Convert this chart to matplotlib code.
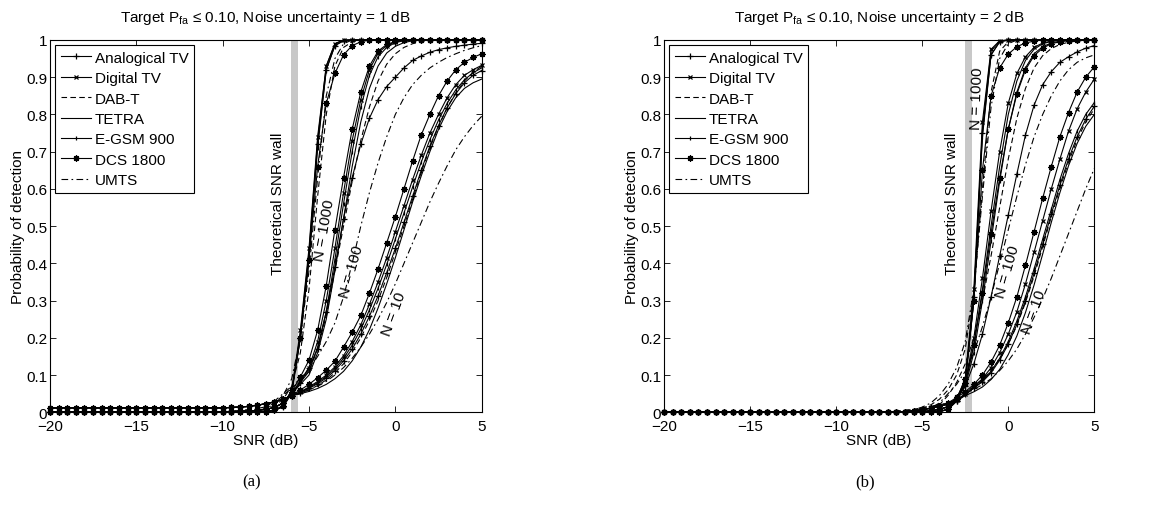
import matplotlib.pyplot as plt
import numpy as np

plt.rcParams['font.family'] = ['Liberation Sans', 'DejaVu Sans']

# SNR grid (dB), one point every 0.5 dB
snr = np.arange(-20, 5.01, 0.5)

series = ['Analogical TV', 'Digital TV', 'DAB-T', 'TETRA', 'E-GSM 900', 'DCS 1800', 'UMTS']

# ---------------- panel (a): noise uncertainty 1 dB ----------------
a10_analog = [0.012, 0.012, 0.012, 0.012, 0.012, 0.012, 0.012, 0.012, 0.012, 0.012,
              0.012, 0.012, 0.012, 0.012, 0.012, 0.012, 0.012, 0.012, 0.012, 0.012,
              0.012, 0.013, 0.014, 0.016, 0.019, 0.023, 0.028, 0.035, 0.044, 0.053,
              0.064, 0.077, 0.092, 0.112, 0.138, 0.17, 0.21, 0.258, 0.313, 0.375,
              0.44, 0.51, 0.58, 0.65, 0.715, 0.77, 0.818, 0.856, 0.885, 0.905,
              0.918]
a10_digital = [0.012, 0.012, 0.012, 0.012, 0.012, 0.012, 0.012, 0.012, 0.012, 0.012,
               0.012, 0.012, 0.012, 0.012, 0.012, 0.012, 0.012, 0.012, 0.012, 0.012,
               0.012, 0.013, 0.014, 0.016, 0.019, 0.023, 0.028, 0.035, 0.045, 0.055,
               0.068, 0.083, 0.1, 0.122, 0.152, 0.19, 0.235, 0.29, 0.35, 0.415,
               0.485, 0.555, 0.625, 0.69, 0.75, 0.8, 0.845, 0.88, 0.905, 0.92,
               0.932]
a10_dabt = [0.012, 0.012, 0.012, 0.012, 0.012, 0.012, 0.012, 0.012, 0.012, 0.012,
            0.012, 0.012, 0.012, 0.012, 0.012, 0.012, 0.012, 0.012, 0.012, 0.012,
            0.012, 0.013, 0.014, 0.016, 0.019, 0.023, 0.028, 0.035, 0.043, 0.051,
            0.06, 0.072, 0.087, 0.106, 0.13, 0.162, 0.2, 0.247, 0.3, 0.362,
            0.43, 0.5, 0.572, 0.645, 0.71, 0.768, 0.818, 0.858, 0.89, 0.913,
            0.93]
a10_tetra = [0.012, 0.012, 0.012, 0.012, 0.012, 0.012, 0.012, 0.012, 0.012, 0.012,
             0.012, 0.012, 0.012, 0.012, 0.012, 0.012, 0.012, 0.012, 0.012, 0.012,
             0.012, 0.013, 0.014, 0.016, 0.019, 0.023, 0.028, 0.035, 0.045, 0.05,
             0.056, 0.064, 0.075, 0.09, 0.11, 0.138, 0.175, 0.222, 0.28, 0.345,
             0.415, 0.49, 0.565, 0.635, 0.7, 0.76, 0.808, 0.845, 0.87, 0.885,
             0.895]
a10_egsm = [0.012, 0.012, 0.012, 0.012, 0.012, 0.012, 0.012, 0.012, 0.012, 0.012,
            0.012, 0.012, 0.012, 0.012, 0.012, 0.012, 0.012, 0.012, 0.012, 0.012,
            0.012, 0.013, 0.014, 0.016, 0.019, 0.023, 0.028, 0.035, 0.044, 0.054,
            0.066, 0.08, 0.096, 0.117, 0.145, 0.18, 0.223, 0.275, 0.333, 0.397,
            0.465, 0.535, 0.605, 0.672, 0.732, 0.785, 0.83, 0.866, 0.893, 0.912,
            0.925]
a10_dcs = [0.012, 0.012, 0.012, 0.012, 0.012, 0.012, 0.012, 0.012, 0.012, 0.012,
           0.012, 0.012, 0.012, 0.012, 0.012, 0.012, 0.012, 0.012, 0.012, 0.012,
           0.012, 0.013, 0.014, 0.016, 0.019, 0.023, 0.028, 0.035, 0.045, 0.06,
           0.075, 0.093, 0.113, 0.137, 0.175, 0.215, 0.26, 0.32, 0.385, 0.455,
           0.525, 0.6, 0.675, 0.745, 0.8, 0.85, 0.89, 0.92, 0.94, 0.953,
           0.963]
a10_umts = [0.012, 0.012, 0.012, 0.012, 0.012, 0.012, 0.012, 0.012, 0.012, 0.012,
            0.012, 0.012, 0.012, 0.012, 0.012, 0.012, 0.012, 0.012, 0.012, 0.012,
            0.012, 0.013, 0.014, 0.016, 0.019, 0.023, 0.028, 0.035, 0.045, 0.052,
            0.06, 0.07, 0.083, 0.1, 0.12, 0.145, 0.175, 0.21, 0.25, 0.295,
            0.345, 0.4, 0.455, 0.51, 0.565, 0.615, 0.662, 0.705, 0.74, 0.77,
            0.795]

a100_analog = [0.002, 0.002, 0.002, 0.002, 0.002, 0.002, 0.002, 0.002, 0.002, 0.002,
               0.002, 0.002, 0.002, 0.002, 0.002, 0.002, 0.002, 0.002, 0.002, 0.002,
               0.002, 0.002, 0.003, 0.004, 0.005, 0.008, 0.013, 0.025, 0.05, 0.08,
               0.12, 0.17, 0.27, 0.39, 0.52, 0.63, 0.72, 0.79, 0.84, 0.875,
               0.9, 0.925, 0.945, 0.957, 0.967, 0.974, 0.979, 0.983, 0.986, 0.989,
               0.991]
a100_digital = [0.002, 0.002, 0.002, 0.002, 0.002, 0.002, 0.002, 0.002, 0.002, 0.002,
                0.002, 0.002, 0.002, 0.002, 0.002, 0.002, 0.002, 0.002, 0.002, 0.002,
                0.002, 0.002, 0.003, 0.004, 0.005, 0.008, 0.013, 0.025, 0.05, 0.085,
                0.12, 0.19, 0.3, 0.44, 0.59, 0.73, 0.84, 0.92, 0.965, 0.985,
                0.995, 1, 1, 1, 1, 1, 1, 1, 1, 1,
                1]
a100_dabt = [0.002, 0.002, 0.002, 0.002, 0.002, 0.002, 0.002, 0.002, 0.002, 0.002,
             0.002, 0.002, 0.002, 0.002, 0.002, 0.002, 0.002, 0.002, 0.002, 0.002,
             0.002, 0.003, 0.004, 0.006, 0.008, 0.012, 0.025, 0.045, 0.065, 0.085,
             0.11, 0.17, 0.26, 0.38, 0.5, 0.62, 0.73, 0.82, 0.89, 0.935,
             0.963, 0.98, 0.99, 0.996, 1, 1, 1, 1, 1, 1,
             1]
a100_tetra = [0.002, 0.002, 0.002, 0.002, 0.002, 0.002, 0.002, 0.002, 0.002, 0.002,
              0.002, 0.002, 0.002, 0.002, 0.002, 0.002, 0.002, 0.002, 0.002, 0.002,
              0.002, 0.002, 0.003, 0.004, 0.005, 0.008, 0.013, 0.025, 0.05, 0.075,
              0.1, 0.16, 0.25, 0.38, 0.52, 0.66, 0.78, 0.87, 0.93, 0.965,
              0.983, 0.993, 0.998, 1, 1, 1, 1, 1, 1, 1,
              1]
a100_egsm = [0.002, 0.002, 0.002, 0.002, 0.002, 0.002, 0.002, 0.002, 0.002, 0.002,
             0.002, 0.002, 0.002, 0.002, 0.002, 0.002, 0.002, 0.002, 0.002, 0.002,
             0.002, 0.002, 0.003, 0.004, 0.005, 0.008, 0.013, 0.025, 0.05, 0.08,
             0.11, 0.175, 0.27, 0.41, 0.56, 0.7, 0.82, 0.905, 0.955, 0.98,
             0.993, 0.998, 1, 1, 1, 1, 1, 1, 1, 1,
             1]
a100_dcs = [0.002, 0.002, 0.002, 0.002, 0.002, 0.002, 0.002, 0.002, 0.002, 0.002,
            0.002, 0.002, 0.002, 0.002, 0.002, 0.002, 0.002, 0.002, 0.002, 0.002,
            0.002, 0.002, 0.003, 0.004, 0.005, 0.008, 0.013, 0.025, 0.055, 0.095,
            0.14, 0.22, 0.34, 0.49, 0.63, 0.76, 0.86, 0.93, 0.97, 0.988,
            0.996, 1, 1, 1, 1, 1, 1, 1, 1, 1,
            1]
a100_umts = [0.002, 0.002, 0.002, 0.002, 0.002, 0.002, 0.002, 0.002, 0.002, 0.002,
             0.002, 0.002, 0.002, 0.002, 0.002, 0.002, 0.002, 0.002, 0.002, 0.002,
             0.002, 0.003, 0.005, 0.007, 0.01, 0.015, 0.03, 0.05, 0.07, 0.09,
             0.115, 0.15, 0.19, 0.24, 0.31, 0.4, 0.5, 0.59, 0.67, 0.74,
             0.8, 0.845, 0.88, 0.905, 0.925, 0.94, 0.953, 0.963, 0.972, 0.979,
             0.985]

a1000_analog = [0, 0, 0, 0, 0, 0, 0, 0, 0, 0,
                0, 0, 0, 0, 0, 0, 0, 0, 0, 0,
                0, 0, 0, 0, 0.001, 0.002, 0.005, 0.015, 0.05, 0.2,
                0.41, 0.72, 0.92, 0.985, 0.998, 1, 1, 1, 1, 1,
                1, 1, 1, 1, 1, 1, 1, 1, 1, 1,
                1]
a1000_digital = [0, 0, 0, 0, 0, 0, 0, 0, 0, 0,
                 0, 0, 0, 0, 0, 0, 0, 0, 0, 0,
                 0, 0, 0, 0, 0.001, 0.002, 0.005, 0.018, 0.06, 0.22,
                 0.44, 0.74, 0.93, 0.99, 1, 1, 1, 1, 1, 1,
                 1, 1, 1, 1, 1, 1, 1, 1, 1, 1,
                 1]
a1000_dabt = [0, 0, 0, 0, 0, 0, 0, 0, 0, 0,
              0, 0, 0, 0, 0, 0, 0, 0, 0, 0,
              0, 0, 0, 0.001, 0.004, 0.008, 0.018, 0.035, 0.07, 0.16,
              0.33, 0.58, 0.8, 0.93, 0.98, 0.995, 1, 1, 1, 1,
              1, 1, 1, 1, 1, 1, 1, 1, 1, 1,
              1]
a1000_tetra = [0, 0, 0, 0, 0, 0, 0, 0, 0, 0,
               0, 0, 0, 0, 0, 0, 0, 0, 0, 0,
               0, 0, 0, 0, 0.001, 0.002, 0.005, 0.016, 0.055, 0.21,
               0.43, 0.73, 0.93, 0.99, 1, 1, 1, 1, 1, 1,
               1, 1, 1, 1, 1, 1, 1, 1, 1, 1,
               1]
a1000_egsm = [0, 0, 0, 0, 0, 0, 0, 0, 0, 0,
              0, 0, 0, 0, 0, 0, 0, 0, 0, 0,
              0, 0, 0, 0, 0.001, 0.002, 0.005, 0.015, 0.055, 0.2,
              0.42, 0.71, 0.92, 0.985, 0.998, 1, 1, 1, 1, 1,
              1, 1, 1, 1, 1, 1, 1, 1, 1, 1,
              1]
a1000_dcs = [0, 0, 0, 0, 0, 0, 0, 0, 0, 0,
             0, 0, 0, 0, 0, 0, 0, 0, 0, 0,
             0, 0, 0, 0, 0.001, 0.002, 0.005, 0.018, 0.06, 0.2,
             0.41, 0.66, 0.83, 0.91, 0.96, 0.985, 0.995, 1, 1, 1,
             1, 1, 1, 1, 1, 1, 1, 1, 1, 1,
             1]
a1000_umts = [0, 0, 0, 0, 0, 0, 0, 0, 0, 0,
              0, 0, 0, 0, 0, 0, 0, 0, 0, 0,
              0, 0, 0, 0.002, 0.005, 0.01, 0.022, 0.045, 0.09, 0.2,
              0.38, 0.63, 0.85, 0.95, 0.99, 1, 1, 1, 1, 1,
              1, 1, 1, 1, 1, 1, 1, 1, 1, 1,
              1]

# ---------------- panel (b): noise uncertainty 2 dB ----------------
b10_analog = [0, 0, 0, 0, 0, 0, 0, 0, 0, 0,
              0, 0, 0, 0, 0, 0, 0, 0, 0, 0,
              0, 0, 0, 0, 0, 0, 0, 0.001, 0.002, 0.004,
              0.007, 0.011, 0.016, 0.022, 0.031, 0.048, 0.065, 0.082, 0.106, 0.14,
              0.183, 0.236, 0.3, 0.373, 0.452, 0.532, 0.61, 0.68, 0.74, 0.787,
              0.822]
b10_digital = [0, 0, 0, 0, 0, 0, 0, 0, 0, 0,
               0, 0, 0, 0, 0, 0, 0, 0, 0, 0,
               0, 0, 0, 0, 0, 0, 0, 0.001, 0.002, 0.004,
               0.007, 0.011, 0.016, 0.022, 0.032, 0.05, 0.07, 0.09, 0.12, 0.16,
               0.21, 0.27, 0.345, 0.43, 0.515, 0.6, 0.68, 0.755, 0.815, 0.86,
               0.895]
b10_dabt = [0, 0, 0, 0, 0, 0, 0, 0, 0, 0,
            0, 0, 0, 0, 0, 0, 0, 0, 0, 0,
            0, 0, 0, 0, 0, 0, 0.001, 0.003, 0.005, 0.008,
            0.012, 0.016, 0.02, 0.025, 0.035, 0.05, 0.07, 0.088, 0.112, 0.143,
            0.183, 0.233, 0.295, 0.366, 0.445, 0.525, 0.602, 0.672, 0.732, 0.78,
            0.815]
b10_tetra = [0, 0, 0, 0, 0, 0, 0, 0, 0, 0,
             0, 0, 0, 0, 0, 0, 0, 0, 0, 0,
             0, 0, 0, 0, 0, 0, 0, 0.001, 0.002, 0.004,
             0.007, 0.011, 0.016, 0.022, 0.03, 0.045, 0.055, 0.068, 0.088, 0.115,
             0.155, 0.205, 0.268, 0.342, 0.425, 0.51, 0.59, 0.662, 0.722, 0.768,
             0.8]
b10_egsm = [0, 0, 0, 0, 0, 0, 0, 0, 0, 0,
            0, 0, 0, 0, 0, 0, 0, 0, 0, 0,
            0, 0, 0, 0, 0, 0, 0, 0.001, 0.002, 0.004,
            0.007, 0.011, 0.016, 0.022, 0.031, 0.048, 0.065, 0.085, 0.11, 0.145,
            0.19, 0.245, 0.31, 0.385, 0.465, 0.545, 0.625, 0.695, 0.755, 0.8,
            0.832]
b10_dcs = [0, 0, 0, 0, 0, 0, 0, 0, 0, 0,
           0, 0, 0, 0, 0, 0, 0, 0, 0, 0,
           0, 0, 0, 0, 0, 0, 0, 0.001, 0.002, 0.004,
           0.007, 0.011, 0.017, 0.025, 0.04, 0.055, 0.075, 0.1, 0.135, 0.18,
           0.24, 0.31, 0.395, 0.485, 0.575, 0.66, 0.74, 0.805, 0.86, 0.9,
           0.928]
b10_umts = [0, 0, 0, 0, 0, 0, 0, 0, 0, 0,
            0, 0, 0, 0, 0, 0, 0, 0, 0, 0,
            0, 0, 0, 0, 0, 0, 0.001, 0.003, 0.005, 0.008,
            0.012, 0.016, 0.02, 0.025, 0.035, 0.048, 0.062, 0.074, 0.09, 0.112,
            0.138, 0.17, 0.21, 0.255, 0.305, 0.36, 0.42, 0.48, 0.54, 0.6,
            0.655]

b100_analog = [0, 0, 0, 0, 0, 0, 0, 0, 0, 0,
               0, 0, 0, 0, 0, 0, 0, 0, 0, 0,
               0, 0, 0, 0, 0, 0, 0, 0, 0, 0,
               0.002, 0.004, 0.008, 0.015, 0.035, 0.07, 0.13, 0.21, 0.31, 0.42,
               0.53, 0.64, 0.745, 0.825, 0.88, 0.915, 0.94, 0.955, 0.968, 0.978,
               0.985]
b100_digital = [0, 0, 0, 0, 0, 0, 0, 0, 0, 0,
                0, 0, 0, 0, 0, 0, 0, 0, 0, 0,
                0, 0, 0, 0, 0, 0, 0, 0, 0, 0,
                0.002, 0.004, 0.008, 0.015, 0.035, 0.08, 0.2, 0.36, 0.54, 0.7,
                0.83, 0.91, 0.955, 0.98, 0.992, 0.997, 1, 1, 1, 1,
                1]
b100_dabt = [0, 0, 0, 0, 0, 0, 0, 0, 0, 0,
             0, 0, 0, 0, 0, 0, 0, 0, 0, 0,
             0, 0, 0, 0, 0, 0, 0, 0.001, 0.002, 0.004,
             0.006, 0.01, 0.02, 0.045, 0.08, 0.13, 0.2, 0.3, 0.42, 0.55,
             0.68, 0.79, 0.87, 0.925, 0.958, 0.977, 0.988, 0.994, 0.997, 1,
             1]
b100_tetra = [0, 0, 0, 0, 0, 0, 0, 0, 0, 0,
              0, 0, 0, 0, 0, 0, 0, 0, 0, 0,
              0, 0, 0, 0, 0, 0, 0, 0, 0, 0,
              0.002, 0.004, 0.008, 0.015, 0.035, 0.075, 0.18, 0.33, 0.5, 0.66,
              0.8, 0.89, 0.945, 0.975, 0.99, 0.996, 1, 1, 1, 1,
              1]
b100_egsm = [0, 0, 0, 0, 0, 0, 0, 0, 0, 0,
             0, 0, 0, 0, 0, 0, 0, 0, 0, 0,
             0, 0, 0, 0, 0, 0, 0, 0, 0, 0,
             0.002, 0.004, 0.008, 0.015, 0.035, 0.07, 0.16, 0.3, 0.46, 0.62,
             0.76, 0.86, 0.925, 0.963, 0.982, 0.992, 0.997, 1, 1, 1,
             1]
b100_dcs = [0, 0, 0, 0, 0, 0, 0, 0, 0, 0,
            0, 0, 0, 0, 0, 0, 0, 0, 0, 0,
            0, 0, 0, 0, 0, 0, 0, 0, 0, 0,
            0.002, 0.004, 0.008, 0.015, 0.04, 0.08, 0.18, 0.32, 0.48, 0.63,
            0.76, 0.855, 0.92, 0.958, 0.978, 0.99, 0.995, 0.998, 1, 1,
            1]
b100_umts = [0, 0, 0, 0, 0, 0, 0, 0, 0, 0,
             0, 0, 0, 0, 0, 0, 0, 0, 0, 0,
             0, 0, 0, 0, 0, 0, 0, 0.001, 0.002, 0.004,
             0.007, 0.012, 0.025, 0.05, 0.075, 0.11, 0.16, 0.23, 0.31, 0.4,
             0.49, 0.58, 0.665, 0.74, 0.8, 0.85, 0.89, 0.92, 0.94, 0.952,
             0.96]

b1000_analog = [0, 0, 0, 0, 0, 0, 0, 0, 0, 0,
                0, 0, 0, 0, 0, 0, 0, 0, 0, 0,
                0, 0, 0, 0, 0, 0, 0, 0, 0, 0,
                0, 0, 0.002, 0.008, 0.03, 0.08, 0.31, 0.75, 0.96, 0.995,
                1, 1, 1, 1, 1, 1, 1, 1, 1, 1,
                1]
b1000_digital = [0, 0, 0, 0, 0, 0, 0, 0, 0, 0,
                 0, 0, 0, 0, 0, 0, 0, 0, 0, 0,
                 0, 0, 0, 0, 0, 0, 0, 0, 0, 0,
                 0, 0, 0.002, 0.008, 0.035, 0.09, 0.33, 0.78, 0.975, 0.998,
                 1, 1, 1, 1, 1, 1, 1, 1, 1, 1,
                 1]
b1000_dabt = [0, 0, 0, 0, 0, 0, 0, 0, 0, 0,
              0, 0, 0, 0, 0, 0, 0, 0, 0, 0,
              0, 0, 0, 0, 0, 0, 0, 0, 0, 0.004,
              0.01, 0.02, 0.035, 0.06, 0.1, 0.17, 0.32, 0.6, 0.86, 0.97,
              0.995, 1, 1, 1, 1, 1, 1, 1, 1, 1,
              1]
b1000_tetra = [0, 0, 0, 0, 0, 0, 0, 0, 0, 0,
               0, 0, 0, 0, 0, 0, 0, 0, 0, 0,
               0, 0, 0, 0, 0, 0, 0, 0, 0, 0,
               0, 0, 0.002, 0.008, 0.03, 0.08, 0.3, 0.76, 0.97, 0.997,
               1, 1, 1, 1, 1, 1, 1, 1, 1, 1,
               1]
b1000_egsm = [0, 0, 0, 0, 0, 0, 0, 0, 0, 0,
              0, 0, 0, 0, 0, 0, 0, 0, 0, 0,
              0, 0, 0, 0, 0, 0, 0, 0, 0, 0,
              0, 0, 0.002, 0.008, 0.03, 0.08, 0.3, 0.74, 0.96, 0.995,
              1, 1, 1, 1, 1, 1, 1, 1, 1, 1,
              1]
b1000_dcs = [0, 0, 0, 0, 0, 0, 0, 0, 0, 0,
             0, 0, 0, 0, 0, 0, 0, 0, 0, 0,
             0, 0, 0, 0, 0, 0, 0, 0, 0, 0,
             0, 0, 0.002, 0.008, 0.035, 0.09, 0.3, 0.65, 0.85, 0.925,
             0.962, 0.982, 0.992, 0.997, 1, 1, 1, 1, 1, 1,
             1]
b1000_umts = [0, 0, 0, 0, 0, 0, 0, 0, 0, 0,
              0, 0, 0, 0, 0, 0, 0, 0, 0, 0,
              0, 0, 0, 0, 0, 0, 0, 0, 0.002, 0.006,
              0.014, 0.025, 0.045, 0.075, 0.12, 0.19, 0.33, 0.58, 0.82, 0.95,
              0.99, 1, 1, 1, 1, 1, 1, 1, 1, 1,
              1]

#line style and marker for each system
styles = {
    'Analogical TV': dict(ls='-', marker='+', ms=4.5),
    'Digital TV': dict(ls='-', marker='x', ms=3.2),
    'DAB-T': dict(ls=(0, (5, 3)), marker=None, ms=0),
    'TETRA': dict(ls='-', marker=None, ms=0),
    'E-GSM 900': dict(ls='-', marker='|', ms=2.5),
    'DCS 1800': dict(ls='-', marker=(8, 2, 0), ms=4.5),
    'UMTS': dict(ls=(0, (6, 3, 1.5, 3)), marker=None, ms=0),
}

panel_a = {
    10: [a10_analog, a10_digital, a10_dabt, a10_tetra, a10_egsm, a10_dcs, a10_umts],
    100: [a100_analog, a100_digital, a100_dabt, a100_tetra, a100_egsm, a100_dcs, a100_umts],
    1000: [a1000_analog, a1000_digital, a1000_dabt, a1000_tetra, a1000_egsm, a1000_dcs, a1000_umts],
}
panel_b = {
    10: [b10_analog, b10_digital, b10_dabt, b10_tetra, b10_egsm, b10_dcs, b10_umts],
    100: [b100_analog, b100_digital, b100_dabt, b100_tetra, b100_egsm, b100_dcs, b100_umts],
    1000: [b1000_analog, b1000_digital, b1000_dabt, b1000_tetra, b1000_egsm, b1000_dcs, b1000_umts],
}

fig = plt.figure(figsize=(11.59, 5.06), dpi=100)
ax_a = fig.add_axes([0.0431, 0.1832, 0.3725, 0.7358])
ax_b = fig.add_axes([0.5729, 0.1832, 0.3713, 0.7358])

panels = [
    (ax_a, panel_a, 1, (-6.05, -5.62), (-6.8, 0.564),
     [('N = 1000', -4.13, 0.49, 80), ('N = 100', -2.55, 0.38, 74), ('N = 10', -0.08, 0.265, 70)]),
    (ax_b, panel_b, 2, (-2.51, -2.09), (-3.24, 0.564),
     [('N = 1000', -1.8, 0.846, 88), ('N = 100', -0.05, 0.38, 74), ('N = 10', 1.5, 0.27, 70)]),
]

fs = 11
for ax, data, unc, wall, wall_txt, nlabels in panels:
    ax.axvspan(wall[0], wall[1], color='#c8c8c8', lw=0, zorder=1)
    for n in [10, 100, 1000]:
        for name, vals in zip(series, data[n]):
            assert len(vals) == len(snr)
            st = styles[name]
            ax.plot(snr, vals, color='black', lw=0.8, ls=st['ls'], marker=st['marker'],
                    ms=st['ms'], mew=0.9, clip_on=False, zorder=3,
                    label=name if n == 10 else None)
    ax.set_xlim(-20, 5)
    ax.set_ylim(0, 1)
    ax.set_xticks([-20, -15, -10, -5, 0, 5])
    ax.set_yticks(np.arange(0, 1.01, 0.1))
    ax.set_yticklabels(['0', '0.1', '0.2', '0.3', '0.4', '0.5', '0.6', '0.7', '0.8', '0.9', '1'])
    ax.tick_params(direction='in', top=True, right=True, labelsize=fs, length=4, width=0.6)
    ax.tick_params(axis='x', pad=5)
    ax.tick_params(axis='y', pad=2)
    for sp in ax.spines.values():
        sp.set_linewidth(0.8)
    ax.set_xlabel('SNR (dB)', fontsize=fs, labelpad=0)
    ax.set_ylabel('Probability of detection', fontsize=fs, labelpad=1)
    ax.set_title(r'Target P$_\mathregular{fa}$ ≤ 0.10, Noise uncertainty = %d dB' % unc,
                 fontsize=fs, pad=14)
    ax.text(wall_txt[0], wall_txt[1], 'Theoretical SNR wall', rotation=90,
            ha='center', va='center', fontsize=fs, zorder=4)
    for txt, x, y, rot in nlabels:
        ax.text(x, y, txt, rotation=rot, ha='center', va='center', fontsize=fs,
                rotation_mode='anchor', zorder=4)
    leg = ax.legend(loc='upper left', fontsize=fs, handlelength=2.0, handletextpad=0.25,
                    labelspacing=0.42, borderpad=0.35, borderaxespad=0.35,
                    fancybox=False, framealpha=1, edgecolor='black')
    leg.get_frame().set_linewidth(0.8)

fig.text(252 / 1159, 1 - 482 / 506, '(a)', ha='center', va='center', fontsize=12,
         family='Liberation Serif')
fig.text(865 / 1159, 1 - 482 / 506, '(b)', ha='center', va='center', fontsize=12,
         family='Liberation Serif')

fig.savefig('out.png', dpi=100)
